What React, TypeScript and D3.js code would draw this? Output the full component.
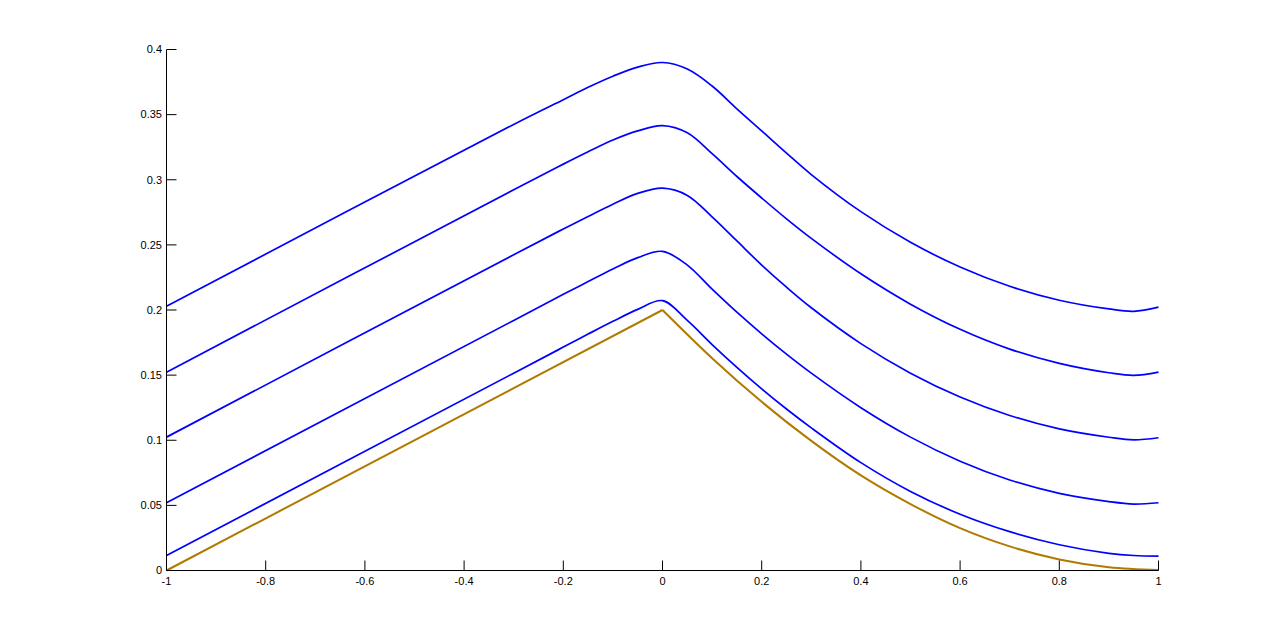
import React from "react";
import * as d3 from "d3";

// Shared x sample positions for the blue curves
const blueX = [-1, -0.3, -0.2, -0.15, -0.1, -0.05, 0, 0.05, 0.1, 0.15, 0.2, 0.25, 0.3, 0.4, 0.5, 0.6, 0.7, 0.8, 0.9, 0.95, 1];

const blue1 = [0.0115, 0.1515, 0.1715, 0.1815, 0.1913, 0.2005, 0.2072, 0.1920, 0.1735, 0.1560, 0.1395, 0.1240, 0.1095, 0.0828, 0.0607, 0.0432, 0.0298, 0.0198, 0.0132, 0.0115, 0.0110];
const blue2 = [0.0520, 0.1920, 0.2120, 0.2218, 0.2315, 0.2402, 0.2450, 0.2345, 0.2160, 0.1983, 0.1817, 0.1661, 0.1515, 0.1250, 0.1024, 0.0839, 0.0695, 0.0592, 0.0529, 0.0510, 0.0520];
const blue3 = [0.1024, 0.2424, 0.2622, 0.2718, 0.2812, 0.2895, 0.2935, 0.2880, 0.2715, 0.2530, 0.2345, 0.2175, 0.2017, 0.1742, 0.1515, 0.1332, 0.1190, 0.1087, 0.1023, 0.1003, 0.1019];
const blue4 = [0.1523, 0.2923, 0.3120, 0.3215, 0.3305, 0.3375, 0.3415, 0.3360, 0.3200, 0.3025, 0.2860, 0.2700, 0.2550, 0.2278, 0.2045, 0.1852, 0.1700, 0.1590, 0.1518, 0.1498, 0.1523];
const blue5 = [0.2029, 0.3425, 0.3615, 0.3710, 0.3795, 0.3865, 0.3900, 0.3850, 0.3720, 0.3545, 0.3375, 0.3205, 0.3040, 0.2755, 0.2520, 0.2330, 0.2182, 0.2075, 0.2008, 0.1990, 0.2022];

const blueSeries = [blue1, blue2, blue3, blue4, blue5];

// Brown (initial) curve: rising straight side, then curved falling side
const brownX = [-1, 0, 0.1, 0.2, 0.3, 0.4, 0.5, 0.6, 0.7, 0.8, 0.9, 1];
const brownY = [0, 0.2, 0.163, 0.1295, 0.0995, 0.073, 0.051, 0.0325, 0.0185, 0.0085, 0.0025, 0.0003];
const brownPeakIndex = 1;

const xTicks = [-1, -0.8, -0.6, -0.4, -0.2, 0, 0.2, 0.4, 0.6, 0.8, 1];
const xTickLabels = ["-1", "-0.8", "-0.6", "-0.4", "-0.2", "0", "0.2", "0.4", "0.6", "0.8", "1"];
const yTicks = [0, 0.05, 0.1, 0.15, 0.2, 0.25, 0.3, 0.35, 0.4];
const yTickLabels = ["0", "0.05", "0.1", "0.15", "0.2", "0.25", "0.3", "0.35", "0.4"];

type P = [number, number];

export default function App() {
  const W = 1280;
  const H = 641;
  const x = d3.scaleLinear().domain([-1, 1]).range([166.5, 1158.5]);
  const y = d3.scaleLinear().domain([0, 0.4]).range([570.5, 49.5]);

  const smoothLine = d3
    .line<P>()
    .x((d) => x(d[0]))
    .y((d) => y(d[1]))
    .curve(d3.curveCatmullRom.alpha(0.5));

  const straightLine = d3
    .line<P>()
    .x((d) => x(d[0]))
    .y((d) => y(d[1]));

  const monoLine = d3
    .line<P>()
    .x((d) => x(d[0]))
    .y((d) => y(d[1]))
    .curve(d3.curveMonotoneX);

  const brownPts: P[] = brownX.map((v, i) => [v, brownY[i]]);
  const brownLeft = brownPts.slice(0, brownPeakIndex + 1);
  const brownRight = brownPts.slice(brownPeakIndex);

  const font = "'Liberation Sans', Arial, Helvetica, sans-serif";

  return (
    <svg
      width={W}
      height={H}
      style={{ position: "absolute", left: 0, top: 0, background: "#fff" }}
    >
      <rect x={0} y={0} width={W} height={H} fill="#fff" />
      {blueSeries.map((s, i) => (
        <path
          key={i}
          d={smoothLine(s.map((v, j) => [blueX[j], v] as P)) || ""}
          fill="none"
          stroke="#0000ff"
          strokeWidth={1.7}
        />
      ))}
      <path d={straightLine(brownLeft) || ""} fill="none" stroke="#b07a00" strokeWidth={2} />
      <path d={monoLine(brownRight) || ""} fill="none" stroke="#b07a00" strokeWidth={2} />

      {/* axes */}
      <line x1={166.5} x2={166.5} y1={y(0.4)} y2={y(0)} stroke="#000" strokeWidth={1} />
      <line x1={x(-1)} x2={x(1)} y1={570.5} y2={570.5} stroke="#000" strokeWidth={1} />

      {yTicks.map((t, i) => (
        <g key={"y" + i}>
          <line x1={166.5} x2={176.5} y1={y(t)} y2={y(t)} stroke="#000" strokeWidth={1} />
          <text
            x={162}
            y={y(t)}
            dy="0.35em"
            textAnchor="end"
            fontFamily={font}
            fontSize={11}
            fill="#000"
          >
            {yTickLabels[i]}
          </text>
        </g>
      ))}

      {xTicks.map((t, i) => (
        <g key={"x" + i}>
          <line x1={x(t)} x2={x(t)} y1={570.5} y2={560.5} stroke="#000" strokeWidth={1} />
          <text
            x={x(t)}
            y={585}
            textAnchor="middle"
            fontFamily={font}
            fontSize={11}
            fill="#000"
          >
            {xTickLabels[i]}
          </text>
        </g>
      ))}
    </svg>
  );
}
